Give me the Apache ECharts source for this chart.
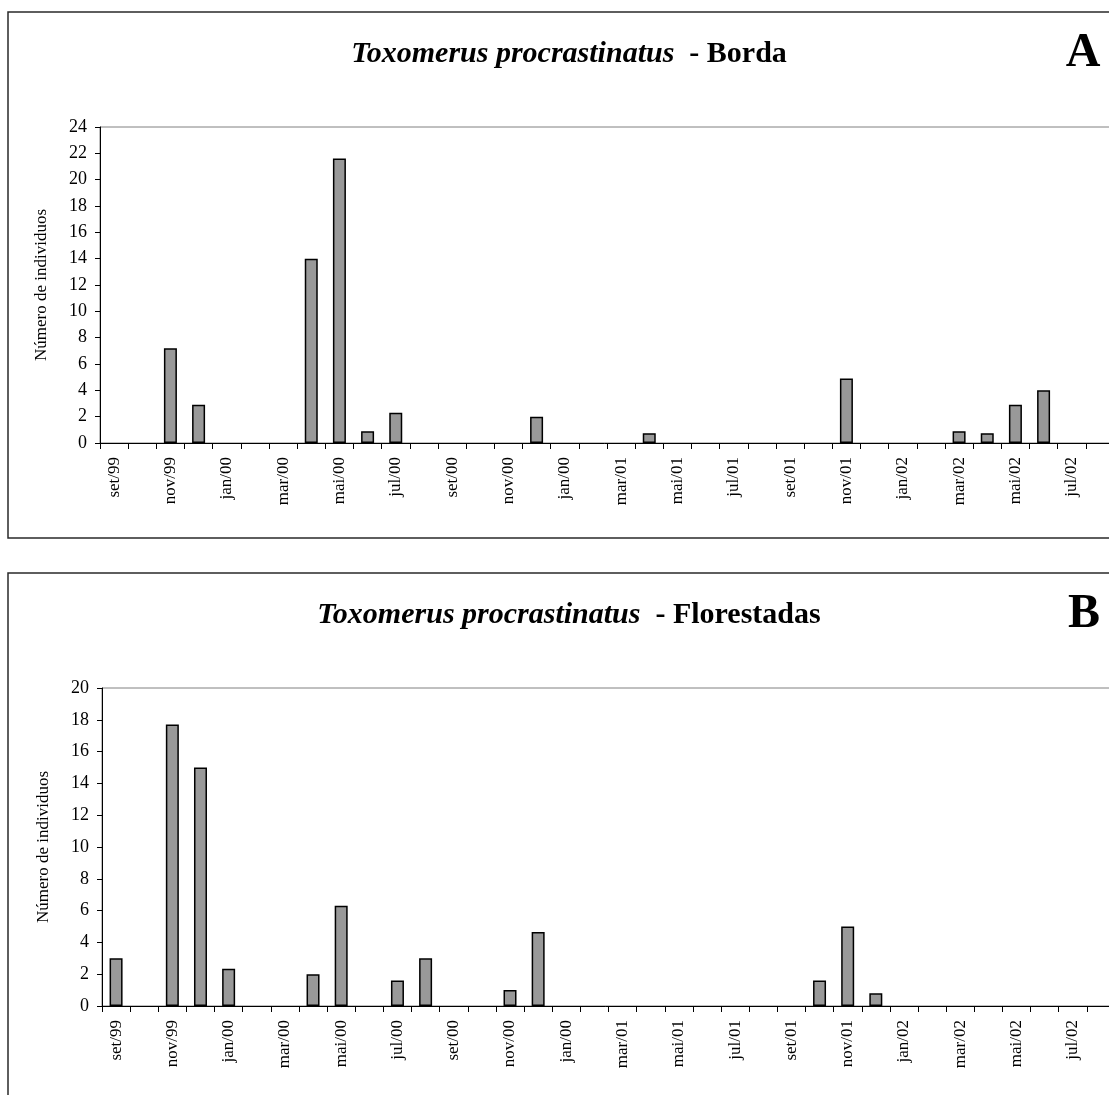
<!DOCTYPE html>
<html>
<head>
<meta charset="utf-8">
<script src="https://cdn.jsdelivr.net/npm/echarts@6/dist/echarts.min.js"></script>
<style>
  html, body { margin: 0; padding: 0; background: #fff; }
  #chart { width: 1109px; height: 1095px; }
</style>
</head>
<body>
<div id="chart"></div>
<script>
// Monthly samples, set/99 to ago/02 (label of month 16 printed as "jan/00")
const months = ['set/99','out/99','nov/99','dez/99','jan/00','fev/00','mar/00','abr/00','mai/00','jun/00',
  'jul/00','ago/00','set/00','out/00','nov/00','dez/00','jan/00','fev/01','mar/01','abr/01',
  'mai/01','jun/01','jul/01','ago/01','set/01','out/01','nov/01','dez/01','jan/02','fev/02',
  'mar/02','abr/02','mai/02','jun/02','jul/02','ago/02'];

// Número de indivíduos — Borda (A)
const bordaValues = [0,0,7.2,2.9,0,0,0,14,21.6,0.9,2.3,0,0,0,0,2,0,0,0,0.75,
  0,0,0,0,0,0,4.9,0,0,0,0.9,0.75,2.9,4,0,0];

// Número de indivíduos — Florestadas (B)
const florestadasValues = [3,0,17.7,15,2.35,0,0,2,6.3,0,1.6,3,0,0,1,4.65,0,0,0,0,
  0,0,0,0,0,1.6,5,0.8,0,0,0,0,0,0,0,0];

const yMaxA = 24, yMaxB = 20, yStep = 2;
const species = 'Toxomerus procrastinatus';
const siteA = 'Borda', siteB = 'Florestadas';
const yName = 'Número de individuos';

const serif = '"Liberation Serif", "Times New Roman", serif';

function xAxisFor(gridIndex) {
  return {
    type: 'category', gridIndex, data: months, z: 3,
    axisLine: { lineStyle: { color: '#000', width: 1 } },
    axisTick: { show: true, interval: 0, length: 6, lineStyle: { color: '#000', width: 1 } },
    axisLabel: { interval: 1, rotate: 90, margin: 14, color: '#000', fontFamily: serif, fontSize: 17 },
    splitLine: { show: false }
  };
}
function yAxisFor(gridIndex, max) {
  return {
    type: 'value', gridIndex, min: 0, max, interval: yStep,
    name: yName, nameLocation: 'middle', nameGap: 50, nameRotate: 90,
    nameTextStyle: { color: '#000', fontFamily: serif, fontSize: 17 },
    axisLine: { show: true, lineStyle: { color: '#000', width: 1 } },
    axisTick: { show: true, length: 5, lineStyle: { color: '#000' } },
    axisLabel: { margin: 13, color: '#000', fontFamily: serif, fontSize: 18 },
    splitLine: { show: false }
  };
}
function titleText(x, y, site) {
  return {
    type: 'text', x, y, z: 10,
    style: {
      text: '{i|' + species + '}{b|  - ' + site + '}',
      align: 'center', verticalAlign: 'middle',
      rich: {
        i: { fontFamily: serif, fontSize: 30, fontStyle: 'italic', fontWeight: 'bold', fill: '#000' },
        b: { fontFamily: serif, fontSize: 30, fontWeight: 'bold', fill: '#000' }
      }
    }
  };
}
function panelLetter(x, y, letter) {
  return {
    type: 'text', x, y, z: 10,
    style: { text: letter, align: 'center', verticalAlign: 'middle',
      fontFamily: serif, fontSize: 48, fontWeight: 'bold', fill: '#000' }
  };
}
function frame(x, y, w, h) {
  return { type: 'rect', shape: { x, y, width: w, height: h }, z: -1,
    style: { fill: 'none', stroke: '#2a2a2a', lineWidth: 1.5 } };
}

// Empty months sit on the axis without an outline
function barData(values) {
  return values.map(v => v > 0 ? v : { value: v, itemStyle: { borderWidth: 0 } });
}

const barStyle = { color: '#999999', borderColor: '#000', borderWidth: 1.5 };

const chart = echarts.init(document.getElementById('chart'), null, { renderer: 'canvas' });
chart.setOption({
  animation: false,
  backgroundColor: '#fff',
  grid: [
    { left: 100, top: 127, height: 316, width: 1014, outerBoundsMode: 'none', containLabel: false,
      show: true, borderColor: '#808080', borderWidth: 1, backgroundColor: 'transparent' },
    { left: 102, top: 688, height: 318, width: 1013, outerBoundsMode: 'none', containLabel: false,
      show: true, borderColor: '#808080', borderWidth: 1, backgroundColor: 'transparent' }
  ],
  xAxis: [xAxisFor(0), xAxisFor(1)],
  yAxis: [yAxisFor(0, yMaxA), yAxisFor(1, yMaxB)],
  series: [
    { type: 'bar', xAxisIndex: 0, yAxisIndex: 0, data: barData(bordaValues), barWidth: 13, itemStyle: barStyle },
    { type: 'bar', xAxisIndex: 1, yAxisIndex: 1, data: barData(florestadasValues), barWidth: 13, itemStyle: barStyle }
  ],
  graphic: [
    frame(8, 12, 1120, 526),
    frame(8, 573, 1120, 560),
    titleText(569, 54, siteA),
    titleText(569, 615, siteB),
    panelLetter(1083, 54, 'A'),
    panelLetter(1084, 615, 'B')
  ]
});
</script>
</body>
</html>
